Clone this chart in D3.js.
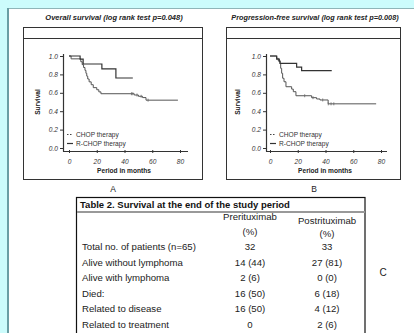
<!DOCTYPE html>
<html><head><meta charset="utf-8">
<script src="https://cdn.jsdelivr.net/npm/d3@7"></script>
<style>
html,body{margin:0;padding:0;background:#ccfcfc;}
svg{display:block;font-family:"Liberation Sans",Arial,sans-serif;}
</style></head><body>
<svg id="c" width="414" height="333"></svg>
<script>
// ---------- data ----------
const xTicks = [0, 20, 40, 60, 80];
const yTicks = [0.0, 0.2, 0.4, 0.6, 0.8, 1.0];
const seriesNames = ["CHOP therapy", "R-CHOP therapy"];

// Overall survival (A)
const osChopTime = [0, 1.5, 8.5, 9.5, 10.5, 11.5, 12.2, 12.8, 13.5, 14.5, 16, 17.5, 20, 21.5, 23, 47, 50, 53, 55.5];
const osChopSurv = [1, 0.969, 0.938, 0.906, 0.875, 0.844, 0.812, 0.781, 0.75, 0.719, 0.688, 0.656, 0.633, 0.61, 0.59, 0.576, 0.562, 0.548, 0.52];
const osChopEnd = 78.5;
const osChopCensor = [45, 46, 49, 52, 57];
const osRchopTime = [0, 8, 10.2, 23.7, 33.8];
const osRchopSurv = [1, 0.967, 0.913, 0.859, 0.761];
const osRchopEnd = 46;

// Progression-free survival (B)
const pfsChopTime = [0, 4.8, 6, 7.2, 7.7, 8.4, 9.1, 10.1, 11.5, 15.6, 16.8, 18.7, 30, 33.6, 36, 41.9];
const pfsChopSurv = [1, 0.975, 0.946, 0.92, 0.866, 0.812, 0.758, 0.72, 0.666, 0.64, 0.612, 0.568, 0.547, 0.533, 0.522, 0.48];
const pfsChopEnd = 76.5;
const pfsChopCensor = [25, 31, 38, 42, 44, 46];
const pfsRchopTime = [0, 4.8, 6.7, 7.2, 19.2, 22.8];
const pfsRchopSurv = [1, 0.967, 0.945, 0.92, 0.88, 0.84];
const pfsRchopEnd = 44.5;

const chartTitles = ["Overall  survival (log rank test p=0.048)", "Progression-free survival (log rank test p=0.008)"];
const panelLetters = ["A", "B", "C"];
const yLabel = "Survival";
const xLabel = "Period in months";

const tableTitle = "Table 2. Survival at the end of the study period";
const colHeaders = [["Prerituximab", "(%)"], ["Postrituximab", "(%)"]];
const rowLabels = ["Total no. of patients (n=65)", "Alive without lymphoma", "Alive with lymphoma", "Died:", "Related to disease", "Related to treatment"];
const preValues = ["32", "14 (44)", "2 (6)", "16 (50)", "16 (50)", "0"];
const postValues = ["33", "27 (81)", "0 (0)", "6 (18)", "4 (12)", "2 (6)"];

// ---------- drawing ----------
const svg = d3.select("#c");
svg.append("rect").attr("x", 0).attr("y", 0).attr("width", 414).attr("height", 333).attr("fill", "#ccfcfc");
svg.append("rect").attr("x", 9).attr("y", 9).attr("width", 405).attr("height", 324).attr("fill", "#ffffff");
svg.append("line").attr("x1", 8).attr("x2", 414).attr("y1", 8.5).attr("y2", 8.5).attr("stroke", "#8fb5b8").attr("stroke-width", 1);
svg.append("line").attr("x1", 8).attr("x2", 8).attr("y1", 8).attr("y2", 333).attr("stroke", "#6a9ea4").attr("stroke-width", 2);

function kmPoints(t, s, end) {
  const pts = t.map((d, i) => [d, s[i]]);
  pts.push([end, s[s.length - 1]]);
  return pts;
}
function survAt(t, s, time) {
  let v = s[0];
  for (let i = 0; i < t.length; i++) if (t[i] <= time) v = s[i];
  return v;
}

function drawKM(cfg) {
  const g = svg.append("g");
  g.append("rect").attr("x", cfg.box[0] + 0.5).attr("y", cfg.box[1] + 0.5)
    .attr("width", cfg.box[2] - cfg.box[0]).attr("height", cfg.box[3] - cfg.box[1])
    .attr("fill", "#fff").attr("stroke", "#333").attr("stroke-width", 1);
  g.append("line").attr("x1", cfg.box[0]).attr("x2", cfg.box[2] + 1)
    .attr("y1", cfg.box[1] + 11.5).attr("y2", cfg.box[1] + 11.5).attr("stroke", "#333");
  g.append("text").attr("x", cfg.titleX).attr("y", 20).attr("text-anchor", "middle")
    .attr("font-size", cfg.titleSize).attr("font-weight", "bold").attr("font-style", "italic").attr("fill", "#222")
    .text(cfg.title);

  const x = d3.scaleLinear().domain([0, 80]).range([cfg.x0, cfg.x0 + 111]);
  const y = d3.scaleLinear().domain([0, 1]).range([148, 56]);
  const axisY = 151;

  const ya = g.append("g").attr("transform", `translate(${cfg.yAxisX},0)`)
    .call(d3.axisLeft(y).tickValues(yTicks).tickFormat(d3.format(".1f")).tickSize(3).tickPadding(2));
  ya.select(".domain").remove();
  ya.selectAll("line").attr("stroke", "#333");
  ya.selectAll("text").attr("font-size", 6.6).attr("font-style", "italic").attr("fill", "#333").attr("font-family", "Liberation Sans, Arial, sans-serif");
  g.append("line").attr("x1", cfg.yAxisX + 0.5).attr("x2", cfg.yAxisX + 0.5).attr("y1", 54).attr("y2", axisY + 0.5).attr("stroke", "#333").attr("stroke-width", 1.2);

  const xa = g.append("g").attr("transform", `translate(0,${axisY})`)
    .call(d3.axisBottom(x).tickValues(xTicks).tickSize(3).tickPadding(5));
  xa.select(".domain").remove();
  xa.selectAll("line").attr("stroke", "#333").attr("transform", "translate(0,-1)");
  xa.selectAll("text").attr("font-size", 6.6).attr("font-style", "italic").attr("fill", "#333").attr("font-family", "Liberation Sans, Arial, sans-serif");
  g.append("line").attr("x1", cfg.yAxisX).attr("x2", cfg.xAxisEnd).attr("y1", axisY + 0.5).attr("y2", axisY + 0.5).attr("stroke", "#333").attr("stroke-width", 1.2);

  g.append("text").attr("x", cfg.x0 + 55).attr("y", 173).attr("text-anchor", "middle")
    .attr("font-size", 6.6).attr("font-weight", "bold").attr("fill", "#222").text(xLabel);
  g.append("text").attr("transform", `translate(${cfg.yLabelX},102) rotate(-90)`).attr("text-anchor", "middle")
    .attr("font-size", 6.6).attr("font-weight", "bold").attr("fill", "#222").text(yLabel);

  const line = d3.line().x(d => x(d[0])).y(d => y(d[1])).curve(d3.curveStepAfter);
  g.append("path").datum(kmPoints(cfg.chop[0], cfg.chop[1], cfg.chop[2]))
    .attr("d", line).attr("fill", "none").attr("stroke", "#555").attr("stroke-width", 1);
  g.selectAll(".cens").data(cfg.chop[3]).join("line")
    .attr("x1", d => x(d)).attr("x2", d => x(d))
    .attr("y1", d => y(survAt(cfg.chop[0], cfg.chop[1], d)) - 1.5)
    .attr("y2", d => y(survAt(cfg.chop[0], cfg.chop[1], d)) + 1.5)
    .attr("stroke", "#666").attr("stroke-width", 0.8);
  g.append("path").datum(kmPoints(cfg.rchop[0], cfg.rchop[1], cfg.rchop[2]))
    .attr("d", line).attr("fill", "none").attr("stroke", "#333").attr("stroke-width", 1.2);

  const lx = cfg.legendX;
  g.append("line").attr("x1", lx).attr("x2", lx + 6).attr("y1", 134.5).attr("y2", 134.5)
    .attr("stroke", "#444").attr("stroke-width", 1).attr("stroke-dasharray", "1.5,1.5");
  g.append("line").attr("x1", lx).attr("x2", lx + 6).attr("y1", 143.5).attr("y2", 143.5)
    .attr("stroke", "#333").attr("stroke-width", 1.2);
  g.append("text").attr("x", lx + 9).attr("y", 136.7).attr("font-size", 6.6).attr("fill", "#333").text(seriesNames[0]);
  g.append("text").attr("x", lx + 9).attr("y", 145.7).attr("font-size", 6.6).attr("fill", "#333").text(seriesNames[1]);

  g.append("text").attr("x", cfg.letterX).attr("y", 192).attr("text-anchor", "middle")
    .attr("font-size", 8.5).attr("fill", "#222").text(cfg.letter);
}

drawKM({
  box: [23, 27, 202, 179], title: chartTitles[0], titleX: 114, titleSize: 7.5,
  x0: 69, yAxisX: 63, xAxisEnd: 188, yLabelX: 40, legendX: 67, letterX: 113, letter: panelLetters[0],
  chop: [osChopTime, osChopSurv, osChopEnd, osChopCensor],
  rchop: [osRchopTime, osRchopSurv, osRchopEnd]
});
drawKM({
  box: [226, 27, 400, 179], title: chartTitles[1], titleX: 315, titleSize: 7.3,
  x0: 270, yAxisX: 266, xAxisEnd: 387, yLabelX: 240, legendX: 270, letterX: 314, letter: panelLetters[1],
  chop: [pfsChopTime, pfsChopSurv, pfsChopEnd, pfsChopCensor],
  rchop: [pfsRchopTime, pfsRchopSurv, pfsRchopEnd]
});

// ---------- table ----------
const tg = svg.append("g");
tg.append("rect").attr("x", 76.5).attr("y", 197.5).attr("width", 288.5).attr("height", 150)
  .attr("fill", "#fff").attr("stroke", "#111").attr("stroke-width", 1.2);
tg.append("line").attr("x1", 77).attr("x2", 365).attr("y1", 212).attr("y2", 212).attr("stroke", "#999").attr("stroke-width", 2);
tg.append("text").attr("x", 80).attr("y", 208).attr("font-size", 9.5).attr("font-weight", "bold").attr("fill", "#111").text(tableTitle);

const colX = [250, 327];
const hdrY = [[220, 235], [224, 237]];
colHeaders.forEach((h, i) => {
  h.forEach((t, j) => {
    tg.append("text").attr("x", colX[i]).attr("y", hdrY[i][j]).attr("text-anchor", "middle")
      .attr("font-size", 9.6).attr("fill", "#222").text(t);
  });
});
const rowY = d3.scalePoint().domain(rowLabels).range([250, 327.5]);
tg.selectAll(".rl").data(rowLabels).join("text")
  .attr("x", 82).attr("y", d => rowY(d)).attr("font-size", 9.6).attr("fill", "#222").text(d => d);
tg.selectAll(".pv").data(preValues).join("text")
  .attr("x", colX[0]).attr("y", (d, i) => rowY(rowLabels[i])).attr("text-anchor", "middle")
  .attr("font-size", 9.6).attr("fill", "#222").text(d => d);
tg.selectAll(".po").data(postValues).join("text")
  .attr("x", colX[1]).attr("y", (d, i) => rowY(rowLabels[i])).attr("text-anchor", "middle")
  .attr("font-size", 9.6).attr("fill", "#222").text(d => d);
tg.append("text").attr("x", 383).attr("y", 276).attr("text-anchor", "middle")
  .attr("font-size", 10).attr("fill", "#222").text(panelLetters[2]);
</script>
</body></html>
